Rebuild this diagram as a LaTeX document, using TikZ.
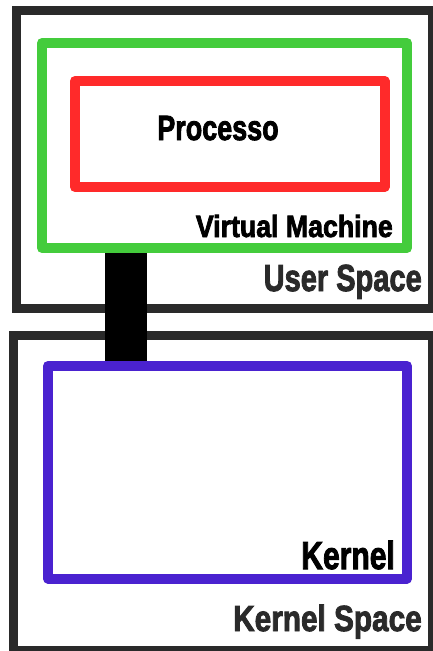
\documentclass[tikz,border=0pt]{standalone}
\usepackage{graphicx}
\usepackage{fontspec}
\setmainfont{Liberation Sans}[BoldFeatures={FakeBold=2.6}]

\definecolor{framegray}{HTML}{2A2A2A}
\definecolor{vmgreen}{HTML}{44CC3C}
\definecolor{procred}{HTML}{FF2A2A}
\definecolor{kernblue}{HTML}{4A22D0}

% squeeze a label sideways
\newcommand{\squeeze}[2]{\scalebox{#1}[1]{#2}}

\begin{document}
\begin{tikzpicture}[x=1pt, y=-1pt,
  frame/.style={draw=framegray, line width=9pt, inner sep=0pt, anchor=north west},
  box/.style={draw=#1, line width=10pt, inner sep=0pt, anchor=north west, line join=round},
  lbl/.style={font=\bfseries\fontsize{#1}{#1}\selectfont, inner sep=0pt, anchor=base east}]
  \useasboundingbox (0,0) rectangle (432,651);

  % user space and kernel space
  \node[frame, minimum width=416pt, minimum height=298pt] (user) at (12,6) {};
  \node[frame, minimum width=419pt, minimum height=315.5pt] (kspace) at (9,330.5) {};

  % inner boxes
  \node[box=vmgreen, minimum width=365pt, minimum height=205pt] (vm) at (37,38) {};
  \node[box=procred, minimum width=309.5pt, minimum height=106pt] (proc) at (70,76) {};
  \node[box=kernblue, minimum width=359pt, minimum height=212.5pt] (kern) at (43,361) {};

  % link from the vm down to the kernel
  \coordinate (bus) at (126,0);
  \draw[line width=42pt] (bus |- vm.south) -- (bus |- kern.north);

  % labels
  \node[lbl=35pt, anchor=base] (proclbl) at ([shift={(-11.75,6)}]proc.center) {\squeeze{0.77}{Processo}};
  \node[lbl=30.7pt] (vmlbl) at ([shift={(-19,-16)}]vm.south east) {\squeeze{0.87}{Virtual Machine}};
  \node[lbl=37.7pt, text=framegray] (userlbl) at ([shift={(-15,-22)}]user.south east) {\squeeze{0.77}{User Space}};
  \node[lbl=39pt] (kernlbl) at ([shift={(-17,-14.5)}]kern.south east) {\squeeze{0.77}{Kernel}};
  \node[lbl=36.3pt, text=framegray] (kspacelbl) at ([shift={(-15,-24)}]kspace.south east) {\squeeze{0.82}{Kernel Space}};
\end{tikzpicture}
\end{document}
